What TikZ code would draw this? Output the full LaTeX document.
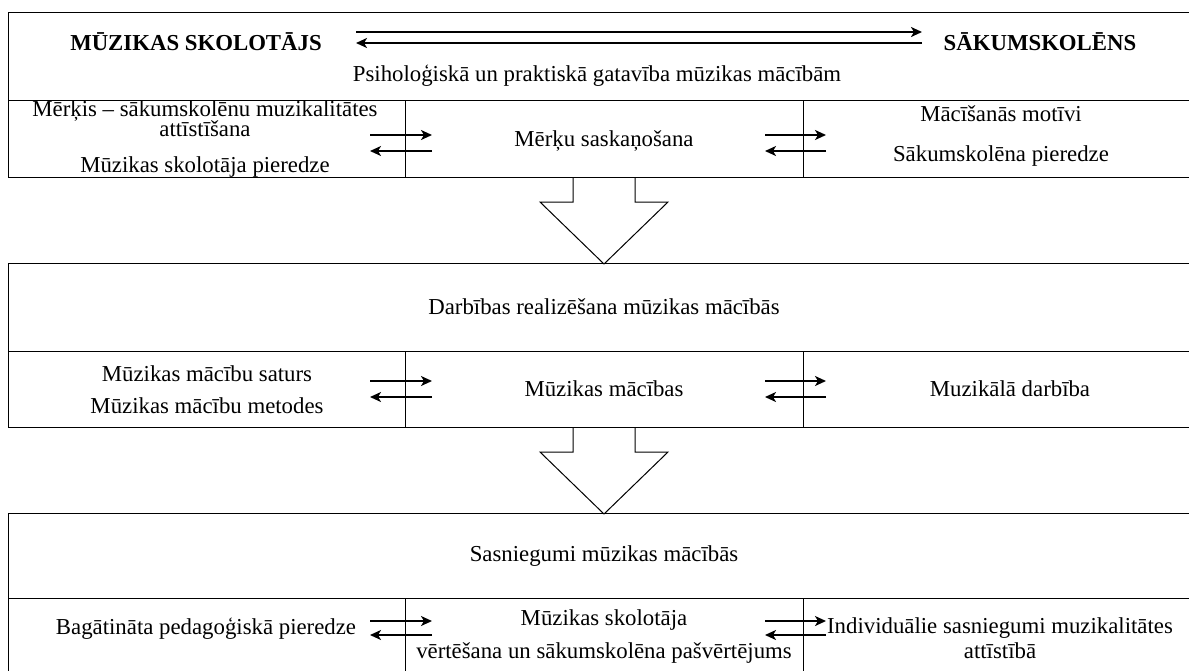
\documentclass[tikz,border=0pt]{standalone}
\usepackage{fontspec}
\setmainfont{Liberation Serif}
\usetikzlibrary{arrows.meta}

\tikzset{
  cell/.style={draw,line width=0.7pt,inner sep=0pt,anchor=north west},
  lbl/.style={align=center,inner sep=0pt},
  pair/.style={-{Stealth[length=5.5pt,width=5pt,inset=1.5pt]},line width=0.9pt},
  fat/.style={draw,line width=0.5pt}
}

\begin{document}
\begin{tikzpicture}[x=0.5pt,y=-0.5pt,font=\fontsize{11.4}{12}\selectfont]
    \useasboundingbox (0,0) rectangle (1189,670);
    \clip (0,0) rectangle (1189,670);

    % Readiness block
    \node[cell,minimum width=596pt,minimum height=44pt] (head1) at (8,12) {};
    \node[cell,minimum width=198.5pt,minimum height=38.5pt] (goal) at (8,100) {};
    \node[cell,minimum width=199pt,minimum height=38.5pt] (agree) at (405,100) {};
    \node[cell,minimum width=198.5pt,minimum height=38.5pt] (motive) at (803,100) {};

    \node[lbl,font=\fontsize{11.4}{12}\selectfont\bfseries] (teacher) at (196,42) {MŪZIKAS SKOLOTĀJS};
    \node[lbl,font=\fontsize{11.4}{12}\selectfont\bfseries] (pupil) at (1040,42) {SĀKUMSKOLĒNS};
    \node[lbl] (ready) at (597,76) {Psiholoģiskā un praktiskā gatavība mūzikas mācībām};
    \node[lbl] (goaltext) at (205,139) {Mērķis – sākumskolēnu muzikalitātes \\[-2pt]
      attīstīšana \\[6pt] Mūzikas skolotāja pieredze};
    \node[lbl] (agreetext) at (604,141) {Mērķu saskaņošana};
    \node[lbl] (motivetext) at (1001,136) {Mācīšanās motīvi \\[8pt] Sākumskolēna pieredze};

    % Teacher - pupil link
    \coordinate (tw) at (356,32);
    \coordinate (te) at (922,32);
    \coordinate (bw) at (356,43);
    \coordinate (be) at (922,43);
    \draw[pair,line width=1.1pt] (tw) -- (te);
    \draw[pair,line width=1.1pt] (be) -- (bw);

    % Row arrows, readiness block
    \coordinate (g1) at (370,135);
    \coordinate (g2) at (432,135);
    \coordinate (g3) at (432,151);
    \coordinate (g4) at (370,151);
    \draw[pair] (g1) -- (g2);
    \draw[pair] (g3) -- (g4);
    \coordinate (m1) at (765,135);
    \coordinate (m2) at (826,135);
    \coordinate (m3) at (826,151);
    \coordinate (m4) at (765,151);
    \draw[pair] (m1) -- (m2);
    \draw[pair] (m3) -- (m4);

    % Block arrow down
    \draw[fat] (573,177) -- (573,202) -- (540,202) -- (604,264) -- (668,202) -- (635,202) -- (635,177);

    % Activity block
    \node[cell,minimum width=596pt,minimum height=44pt] (head2) at (8,263) {};
    \node[cell,minimum width=198.5pt,minimum height=38pt] (content) at (8,351) {};
    \node[cell,minimum width=199pt,minimum height=38pt] (lessons) at (405,351) {};
    \node[cell,minimum width=198.5pt,minimum height=38pt] (doing) at (803,351) {};

    \node[lbl] (acttext) at (604,307) {Darbības realizēšana mūzikas mācībās};
    \node[lbl] (contenttext) at (207,390) {Mūzikas mācību saturs \\[4pt] Mūzikas mācību metodes};
    \node[lbl] (lessonstext) at (604,389) {Mūzikas mācības};
    \node[lbl] (doingtext) at (1010,389) {Muzikālā darbība};

    \coordinate (c1) at (370,381);
    \coordinate (c2) at (432,381);
    \coordinate (c3) at (432,397);
    \coordinate (c4) at (370,397);
    \draw[pair] (c1) -- (c2);
    \draw[pair] (c3) -- (c4);
    \coordinate (d1) at (765,381);
    \coordinate (d2) at (826,381);
    \coordinate (d3) at (826,397);
    \coordinate (d4) at (765,397);
    \draw[pair] (d1) -- (d2);
    \draw[pair] (d3) -- (d4);

    % Block arrow down
    \draw[fat] (573,427) -- (573,452) -- (540,452) -- (604,514) -- (668,452) -- (635,452) -- (635,427);

    % Results block
    \node[cell,minimum width=596pt,minimum height=42.5pt] (head3) at (8,513) {};
    \node[cell,minimum width=198.5pt,minimum height=45pt] (enrich) at (8,598) {};
    \node[cell,minimum width=199pt,minimum height=45pt] (assess) at (405,598) {};
    \node[cell,minimum width=198.5pt,minimum height=45pt] (indiv) at (803,598) {};

    \node[lbl] (resulttext) at (604,556) {Sasniegumi mūzikas mācībās};
    \node[lbl] (enrichtext) at (206,629) {Bagātināta pedagoģiskā pieredze};
    \node[lbl] (assesstext) at (604,637) {Mūzikas skolotāja \\[4.5pt] vērtēšana un sākumskolēna pašvērtējums};
    \node[lbl] (indivtext) at (1000,638) {Individuālie sasniegumi muzikalitātes \\[0.5pt] attīstībā};

    \coordinate (e1) at (370,621);
    \coordinate (e2) at (432,621);
    \coordinate (e3) at (432,635);
    \coordinate (e4) at (370,635);
    \draw[pair] (e1) -- (e2);
    \draw[pair] (e3) -- (e4);
    \coordinate (i1) at (765,621);
    \coordinate (i2) at (826,621);
    \coordinate (i3) at (826,635);
    \coordinate (i4) at (765,635);
    \draw[pair] (i1) -- (i2);
    \draw[pair] (i3) -- (i4);
\end{tikzpicture}
\end{document}
